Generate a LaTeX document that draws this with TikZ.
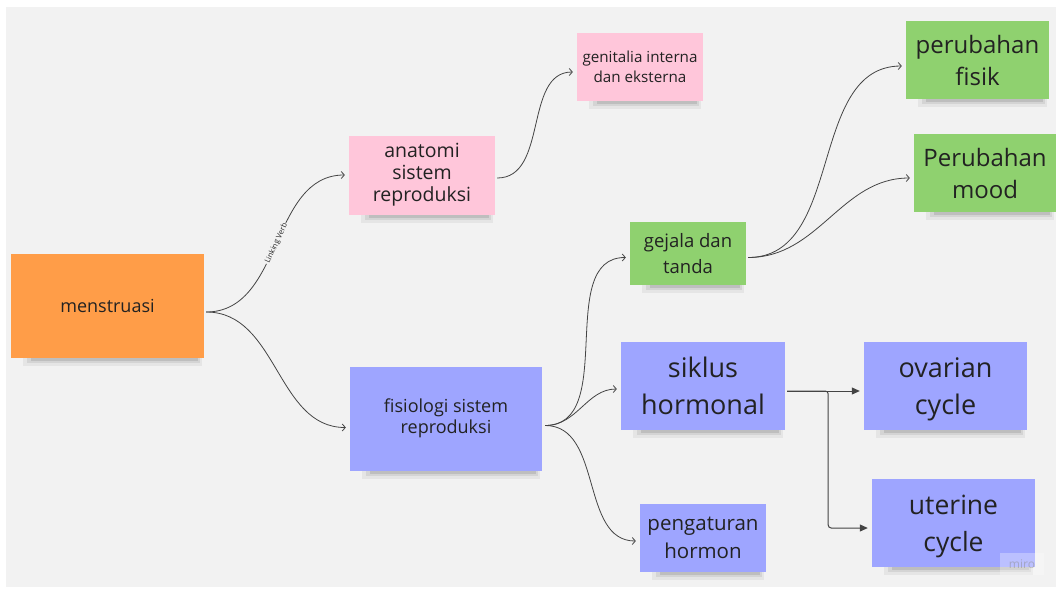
\documentclass[tikz,border=0pt]{standalone}
\usepackage{fontspec}
\setmainfont{Open Sans}
\usetikzlibrary{arrows.meta,backgrounds}
\definecolor{bg}{HTML}{F2F2F2}
\definecolor{orangenote}{HTML}{FF9D48}
\definecolor{pinknote}{HTML}{FFC6DA}
\definecolor{violetnote}{HTML}{9EA5FF}
\definecolor{greennote}{HTML}{8FD16F}
\definecolor{inktext}{HTML}{222222}
\definecolor{linkline}{HTML}{444444}
\tikzset{
  note/.style={rectangle, align=center, text=inktext, inner sep=2pt},
  curvelink/.style={draw=linkline, line width=0.8pt, -{Straight Barb[length=3pt,width=7pt]}, shorten >=2pt},
  elbowlink/.style={draw=linkline, line width=1pt, -{Triangle[length=8pt,width=7pt]}, shorten >=2pt},
}
\begin{document}
\begin{tikzpicture}[x=1pt,y=-1pt]
\useasboundingbox (0,0) rectangle (1056,589);

\node[note, fill=orangenote, minimum width=193pt, minimum height=104pt, font=\fontsize{18}{21}\selectfont] (men) at (107.5,306) {menstruasi};
\node[note, fill=pinknote, minimum width=146pt, minimum height=79pt, font=\fontsize{19.5}{22}\selectfont] (anat) at (422,175) {anatomi\\sistem\\reproduksi};
\node[note, fill=pinknote, minimum width=126pt, minimum height=68pt, font=\fontsize{15.2}{20}\selectfont] (gen) at (640,67) {genitalia interna\\dan eksterna};
\node[note, fill=violetnote, minimum width=192pt, minimum height=104pt, font=\fontsize{18}{21}\selectfont] (fis) at (446,418.5) {fisiologi sistem\\reproduksi};
\node[note, fill=greennote, minimum width=116pt, minimum height=63pt, font=\fontsize{18.5}{26}\selectfont] (gej) at (688,253.5) {gejala dan\\tanda};
\node[note, fill=greennote, minimum width=143pt, minimum height=78pt, font=\fontsize{24}{32}\selectfont] (pf) at (977.5,60) {perubahan\\fisik};
\node[note, fill=greennote, minimum width=142pt, minimum height=78pt, font=\fontsize{24}{32}\selectfont] (pm) at (985,173) {Perubahan\\mood};
\node[note, fill=violetnote, minimum width=164pt, minimum height=88pt, font=\fontsize{27}{37}\selectfont] (sik) at (703,386) {siklus\\hormonal};
\node[note, fill=violetnote, minimum width=163pt, minimum height=88pt, text depth=0pt, font=\fontsize{27}{37}\selectfont] (ova) at (945.5,386) {ovarian\vphantom{k}\\cycle};
\node[note, fill=violetnote, minimum width=163pt, minimum height=88pt, text depth=0pt, font=\fontsize{26.5}{37}\selectfont] (ute) at (953.5,523) {uterine\vphantom{k}\\cycle};
\node[note, fill=violetnote, minimum width=126pt, minimum height=68pt, font=\fontsize{20.5}{28}\selectfont] (pen) at (703,538) {pengaturan\\hormon};

\node[fill=white, fill opacity=0.3, text opacity=0.5, text=black!45, font=\fontsize{12}{13}\selectfont, minimum width=44pt, minimum height=22pt, inner sep=0pt] (wm) at (1022,564) {miro};

\begin{scope}[on background layer]
  \fill[white] (0,0) rectangle (1056,589);
  \fill[bg] (6,7) rectangle (1056,587);
  \foreach \n in {men,anat,gen,fis,gej,pf,pm,sik,ova,ute,pen}{
    \fill[black, opacity=0.05] ([xshift=12pt]\n.south west) rectangle ([xshift=-2pt,yshift=-8pt]\n.south east);
    \fill[black, opacity=0.07] ([xshift=16pt]\n.south west) rectangle ([xshift=-4pt,yshift=-5pt]\n.south east);
    \fill[black, opacity=0.10] ([xshift=20pt]\n.south west) rectangle ([xshift=-6pt,yshift=-3pt]\n.south east);
  }
\end{scope}

% curved connectors
\draw[curvelink] ([xshift=2pt,yshift=-6pt]men.east) to[out=0,in=180] node[pos=0.5, sloped, fill=bg, inner sep=1pt, text=inktext, font=\fontsize{7.5}{8}\selectfont] (lv) {Linking Verb} ([xshift=-2pt]anat.west);
\draw[curvelink] ([xshift=2pt,yshift=-6pt]men.east) to[out=0,in=180] ([xshift=-2pt,yshift=-9pt]fis.west);
\draw[curvelink] ([xshift=2pt,yshift=-3pt]anat.east) to[out=0,in=180] ([xshift=-2pt,yshift=-5pt]gen.west);
\draw[curvelink] ([xshift=3pt,yshift=-7pt]fis.east) to[out=0,in=180] ([xshift=-2pt,yshift=-4pt]gej.west);
\draw[curvelink] ([xshift=3pt,yshift=-7pt]fis.east) to[out=0,in=180] ([xshift=-2pt,yshift=-3pt]sik.west);
\draw[curvelink] ([xshift=3pt,yshift=-7pt]fis.east) to[out=0,in=180] ([xshift=-2pt,yshift=-3pt]pen.west);
\draw[curvelink] ([xshift=2pt,yshift=-4pt]gej.east) to[out=0,in=180] ([xshift=-2pt,yshift=-6pt]pf.west);
\draw[curvelink] ([xshift=2pt,yshift=-4pt]gej.east) to[out=0,in=180] ([xshift=-2pt,yshift=-5pt]pm.west);

% elbow connectors
\coordinate (split) at ([xshift=43pt,yshift=-5pt]sik.east);
\draw[elbowlink] ([xshift=2pt,yshift=-5pt]sik.east) -- ([xshift=-2pt,yshift=-5pt]ova.west);
\draw[elbowlink, rounded corners=3pt] ([xshift=2pt,yshift=-5pt]sik.east) -- (split) |- ([xshift=-2pt,yshift=-5pt]ute.west);
\end{tikzpicture}
\end{document}
